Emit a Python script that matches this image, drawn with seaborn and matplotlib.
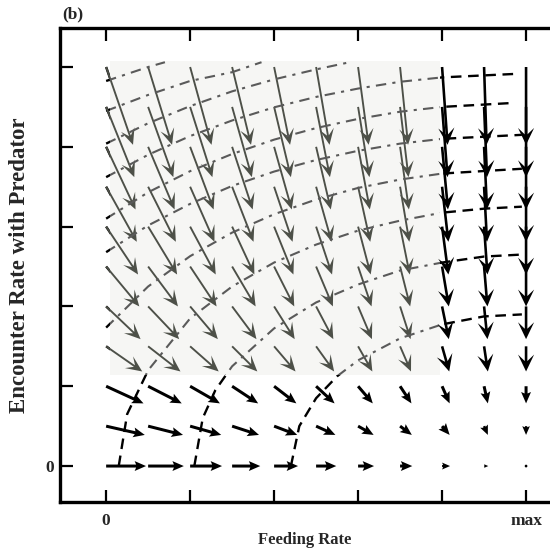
import numpy as np
import pandas as pd
import matplotlib
matplotlib.use("Agg")
import matplotlib.pyplot as plt
from matplotlib.patches import Rectangle
import seaborn as sns

# grid of the vector field, 0 .. max on both axes
feed = [0.0, 0.1, 0.2, 0.3, 0.4, 0.5, 0.6, 0.7, 0.8, 0.9, 1.0]
enc = [0.0, 0.1, 0.2, 0.3, 0.4, 0.5, 0.6, 0.7, 0.8, 0.9, 1.0]

# horizontal component, one row per encounter rate (bottom to top)
u_rows = [
    [0.095, 0.085, 0.076, 0.067, 0.057, 0.048, 0.038, 0.029, 0.019, 0.010, 0.002],
    [0.092, 0.083, 0.074, 0.064, 0.055, 0.046, 0.037, 0.028, 0.018, 0.009, 0.000],
    [0.089, 0.080, 0.071, 0.062, 0.053, 0.044, 0.035, 0.027, 0.018, 0.009, 0.000],
    [0.086, 0.077, 0.068, 0.060, 0.051, 0.043, 0.034, 0.026, 0.017, 0.009, 0.000],
    [0.082, 0.074, 0.066, 0.058, 0.049, 0.041, 0.033, 0.025, 0.016, 0.008, 0.000],
    [0.079, 0.071, 0.063, 0.056, 0.048, 0.040, 0.032, 0.024, 0.016, 0.008, 0.000],
    [0.076, 0.069, 0.061, 0.053, 0.046, 0.038, 0.030, 0.023, 0.015, 0.008, 0.000],
    [0.073, 0.066, 0.058, 0.051, 0.044, 0.037, 0.029, 0.022, 0.015, 0.007, 0.000],
    [0.070, 0.063, 0.056, 0.049, 0.042, 0.035, 0.028, 0.021, 0.014, 0.007, 0.000],
    [0.067, 0.060, 0.053, 0.047, 0.040, 0.033, 0.027, 0.020, 0.013, 0.007, 0.000],
    [0.064, 0.057, 0.051, 0.045, 0.038, 0.032, 0.025, 0.019, 0.013, 0.006, 0.000],
]
# vertical component, same for every column of a row
v_rows = [0.0, -0.022, -0.043, -0.063, -0.082, -0.100, -0.120, -0.138, -0.157, -0.176, -0.195]

# isoclines (feeding, encounter)
iso_a = [(0.03, 0.0), (0.05, 0.13), (0.1, 0.24), (0.2, 0.37), (0.3, 0.45), (0.4, 0.51),
         (0.5, 0.555), (0.6, 0.59), (0.7, 0.615), (0.8, 0.635), (0.9, 0.645), (0.99, 0.65)]
iso_b = [(0.21, 0.0), (0.23, 0.12), (0.26, 0.19), (0.3, 0.25), (0.4, 0.345), (0.5, 0.41),
         (0.6, 0.455), (0.7, 0.49), (0.8, 0.51), (0.9, 0.525), (0.99, 0.53)]
iso_c = [(0.44, 0.0), (0.46, 0.10), (0.5, 0.17), (0.55, 0.225), (0.6, 0.265), (0.7, 0.32),
         (0.8, 0.355), (0.9, 0.375), (0.99, 0.38)]
iso_d = [(0.0, 0.347), (0.1, 0.45), (0.2, 0.526), (0.3, 0.585), (0.4, 0.631), (0.5, 0.668),
         (0.6, 0.697), (0.7, 0.718), (0.8, 0.733), (0.99, 0.745)]
iso_e = [(0.0, 0.536), (0.1, 0.603), (0.2, 0.657), (0.3, 0.702), (0.4, 0.738), (0.5, 0.767),
         (0.6, 0.79), (0.7, 0.808), (0.8, 0.82), (0.99, 0.83)]
iso_f = [(0.0, 0.62), (0.1, 0.686), (0.2, 0.739), (0.3, 0.782), (0.4, 0.818), (0.5, 0.847),
         (0.6, 0.87), (0.7, 0.888), (0.8, 0.9), (0.97, 0.91)]
iso_g = [(0.0, 0.724), (0.1, 0.78), (0.2, 0.827), (0.3, 0.866), (0.4, 0.899), (0.5, 0.925),
         (0.6, 0.946), (0.7, 0.963), (0.8, 0.974), (0.98, 0.983)]
iso_h = [(0.0, 0.808), (0.1, 0.859), (0.2, 0.902), (0.3, 0.939), (0.4, 0.969), (0.5, 0.994),
         (0.58, 1.012)]
iso_i = [(0.0, 0.89), (0.1, 0.93), (0.2, 0.965), (0.3, 0.987), (0.37, 1.012)]
iso_j = [(0.0, 0.965), (0.1, 1.0), (0.14, 1.012)]
isoclines = [iso_a, iso_b, iso_c, iso_d, iso_e, iso_f, iso_g, iso_h, iso_i, iso_j]

x_ticks = [0.0, 0.2, 0.4, 0.6, 0.8, 1.0]
x_ticklabels = ["0", "", "", "", "", "max"]
y_ticks = [0.0, 0.2, 0.4, 0.6, 0.8, 1.0]
y_ticklabels = ["0", "", "", "", "", ""]

sns.set_style("ticks")
plt.rcParams["font.family"] = ["Liberation Serif", "DejaVu Serif"]
plt.rcParams["font.weight"] = "bold"

fig = plt.figure(figsize=(5.5, 5.51), dpi=100)
ax = fig.add_axes([0.109, 0.089, 0.891, 0.86])

X, Y = np.meshgrid(feed, enc)
U = np.array(u_rows)
V = np.array(v_rows)[:, None] * np.ones_like(U)

# the pasted grey panel in the upper left
panel = Rectangle((0.01, 0.2275), 0.785, 0.7875, facecolor="#f6f6f4", edgecolor="none", zorder=3)
ax.add_patch(panel)
in_panel = (X <= 0.75) & (Y >= 0.25)
low = Y <= 0.25
right = (X >= 0.75) & (Y >= 0.25)

q = dict(angles="xy", scale_units="xy", scale=1, units="dots", pivot="tail")
# black arrows under the panel (only the tails at the left edge show)
ax.quiver(X[in_panel], Y[in_panel], U[in_panel], V[in_panel], color="black",
          width=2.4, headlength=7, headwidth=6, headaxislength=5, zorder=2, **q)
ax.quiver(X[in_panel], Y[in_panel], U[in_panel], V[in_panel], color="#4d5048",
          width=1.9, headlength=8.5, headwidth=7.5, headaxislength=5.0, zorder=4,
          clip_path=panel, **q)
ax.quiver(X[low], Y[low], U[low], V[low], color="black",
          width=3.0, headlength=3.8, headwidth=3.3, headaxislength=3.3, zorder=5, **q)
ax.quiver(X[right], Y[right], U[right], V[right], color="black",
          width=2.6, headlength=6.5, headwidth=6.2, headaxislength=4.0, zorder=5, **q)

for pts in isoclines:
    df = pd.DataFrame(pts, columns=["feeding", "encounter"])
    sns.lineplot(data=df, x="feeding", y="encounter", sort=False, estimator=None,
                 color="black", lw=1.7, dashes=False, ax=ax, zorder=2)
    ax.lines[-1].set_dashes([4.5, 2.8])
    sns.lineplot(data=df, x="feeding", y="encounter", sort=False, estimator=None,
                 color="#5a5a5a", lw=1.5, dashes=False, ax=ax, zorder=4)
    ax.lines[-1].set_dashes([5, 3, 1.5, 3])
    ax.lines[-1].set_clip_path(panel)

ax.set_xlim(-0.11, 1.057)
ax.set_ylim(-0.09, 1.0975)
ax.set_xticks(x_ticks)
ax.set_xticklabels(x_ticklabels, fontsize=12.5, fontweight="bold")
ax.set_yticks(y_ticks)
ax.set_yticklabels(y_ticklabels, fontsize=12.5, fontweight="bold")
ax.tick_params(axis="both", direction="in", length=9, width=1.6, color="black")
ax.tick_params(axis="x", top=True, pad=8)
ax.tick_params(axis="y", pad=4)
ax.spines["right"].set_visible(False)
for side in ["left", "top", "bottom"]:
    ax.spines[side].set_linewidth(2.4)
    ax.spines[side].set_color("black")

ax.set_xlabel("Feeding Rate", fontsize=12, fontweight="bold", labelpad=2)
ax.set_ylabel("Encounter Rate with Predator", fontsize=16.5, fontweight="bold", labelpad=11)
fig.text(73 / 550, 1 - 14 / 551, "(b)", fontsize=12.5, fontweight="bold", ha="center", va="center")

fig.savefig("out.png", dpi=100)
